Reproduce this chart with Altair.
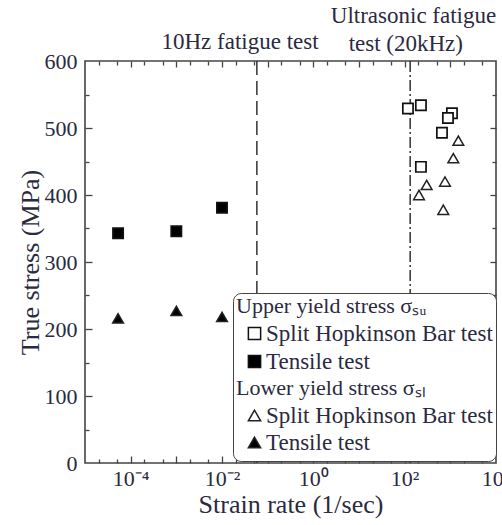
import altair as alt
import pandas as pd

# ---------------- data ----------------
upper_shb_rate = [118, 227, 1086, 887, 656, 227]
upper_shb_stress = [529, 534, 522, 515, 493, 442]
upper_tensile_rate = [5.3e-5, 1.0e-3, 1.0e-2]
upper_tensile_stress = [343, 346, 381]

lower_shb_rate = [1497, 1162, 764, 303, 206, 701]
lower_shb_stress = [481, 455, 420, 415, 400, 378]
lower_tensile_rate = [5.3e-5, 1.0e-3, 1.0e-2]
lower_tensile_stress = [216, 227, 218]

series_labels = ["Split Hopkinson Bar test", "Tensile test"]
upper_title = "Upper yield stress σₛᵤ"
lower_title = "Lower yield stress σₛₗ"

fatigue_rates = [0.058, 132]          # 10 Hz fatigue test, ultrasonic (20 kHz)
annotation_texts = ["10Hz fatigue test", "Ultrasonic fatigue", "test (20kHz)"]

x_tick_exponents = [-4, -2, 0, 2, 4]
x_tick_labels = ["10⁻⁴", "10⁻²", "10⁰", "10²", "10⁴"]
y_tick_values = [0, 100, 200, 300, 400, 500, 600]

# ---------------- tables ----------------
upper_df = pd.DataFrame({
    "rate": upper_shb_rate + upper_tensile_rate,
    "stress": upper_shb_stress + upper_tensile_stress,
    "test": [series_labels[0]] * len(upper_shb_rate) + [series_labels[1]] * len(upper_tensile_rate),
})
lower_df = pd.DataFrame({
    "rate": lower_shb_rate + lower_tensile_rate,
    "stress": lower_shb_stress + lower_tensile_stress,
    "test": [series_labels[0]] * len(lower_shb_rate) + [series_labels[1]] * len(lower_tensile_rate),
})

F = "Liberation Serif"
TXT = "#2a2a40"
FRAME = "#444444"

xs = alt.Scale(type="log", domain=[1e-5, 1e4], nice=False)
ys = alt.Scale(domain=[0, 600], nice=False)

x_tick_values = [10.0 ** e for e in x_tick_exponents]
label_expr = " : ".join(
    f"abs(log(datum.value)/LN10 - ({e})) < 0.01 ? '{lab}'"
    for e, lab in zip(x_tick_exponents, x_tick_labels)
) + " : ''"

x_major = [10.0 ** k for k in range(-4, 4)]
x_minor = [m * 10.0 ** k for k in range(-5, 4) for m in (2, 5)]
y_major = [100, 200, 300, 400, 500]
y_minor = [50, 150, 250, 350, 450, 550]

# ---------------- layers ----------------
rule_10hz = alt.Chart(pd.DataFrame({"rate": [fatigue_rates[0]]})).mark_rule(
    color="#333333", strokeWidth=1.5, strokeDash=[14, 6]
).encode(x=alt.X("rate:Q", scale=xs, axis=None))

rule_us = alt.Chart(pd.DataFrame({"rate": [fatigue_rates[1]]})).mark_rule(
    color="#333333", strokeWidth=1.5, strokeDash=[11, 3, 2, 3]
).encode(x=alt.X("rate:Q", scale=xs, axis=None))


def annot(text, xval, ypix):
    return alt.Chart(pd.DataFrame({"rate": [xval], "t": [text]})).mark_text(
        font=F, fontSize=23, color=TXT, align="center", baseline="alphabetic"
    ).encode(x=alt.X("rate:Q", scale=xs, axis=None), y=alt.value(ypix), text="t:N")


a1 = annot(annotation_texts[0], 0.0248, -12)
a2 = annot(annotation_texts[1], 156, -38)
a3 = annot(annotation_texts[2], 106, -10)


def tick_layer(xorient, yorient, xvals, yvals, size):
    return alt.Chart(upper_df).mark_point(opacity=0).encode(
        x=alt.X("rate:Q", scale=xs, axis=alt.Axis(
            orient=xorient, values=xvals, tickSize=size, offset=-size, labels=False,
            domain=False, grid=False, title=None, tickColor=FRAME, tickWidth=1.3)),
        y=alt.Y("stress:Q", scale=ys, axis=alt.Axis(
            orient=yorient, values=yvals, tickSize=size, offset=-size, labels=False,
            domain=False, grid=False, title=None, tickColor=FRAME, tickWidth=1.3)),
    )


tk1 = tick_layer("bottom", "left", x_major, y_major, 7)
tk2 = tick_layer("bottom", "left", x_minor, y_minor, 4)
tk3 = tick_layer("top", "right", x_major, y_major, 6)
tk4 = tick_layer("top", "right", x_minor, y_minor, 4)

x_axis = alt.Axis(
    orient="bottom", values=x_tick_values, labelExpr=label_expr, ticks=False, tickSize=0,
    domain=False, grid=False, labelFlush=False, labelOverlap=False,
    labelFont=F, labelFontSize=22, labelColor=TXT, labelPadding=5,
    title="Strain rate (1/sec)", titleFont=F, titleFontSize=26, titleFontWeight="normal",
    titleColor=TXT, titlePadding=2,
)
y_axis = alt.Axis(
    orient="left", values=y_tick_values, ticks=False, tickSize=0, domain=False, grid=False,
    labelFont=F, labelFontSize=22, labelColor=TXT, labelPadding=8,
    title="True stress (MPa)", titleFont=F, titleFontSize=26, titleFontWeight="normal",
    titleColor=TXT, titlePadding=1,
)

common_leg = dict(
    orient="none", legendX=148, padding=3,
    titleFont=F, titleFontSize=22, titleFontWeight="normal", titleColor=TXT,
    titleLimit=400, titlePadding=4,
    labelFont=F, labelFontSize=23, labelColor=TXT, labelLimit=400, labelOffset=0,
    symbolOffset=7, symbolSize=150, symbolStrokeWidth=1.5,
)
leg_upper = alt.Legend(title=upper_title, legendY=232, strokeColor=FRAME, cornerRadius=8,
                       fillColor="white", rowPadding=4, zindex=1, **common_leg)
leg_lower = alt.Legend(title=lower_title, legendY=314, rowPadding=3, zindex=2, **common_leg)

upper_domain = series_labels + [" ", "  ", "   "]
upper_shapes = ["square", "square", "M0,0", "M0,0", "M0,0"]
upper_fills = ["white", "black", "transparent", "transparent", "transparent"]

upper_pts = alt.Chart(upper_df).mark_point(
    size=105, opacity=1, stroke="#111111", strokeWidth=1.7
).encode(
    x=alt.X("rate:Q", scale=xs, axis=x_axis),
    y=alt.Y("stress:Q", scale=ys, axis=y_axis),
    shape=alt.Shape("test:N", scale=alt.Scale(domain=upper_domain, range=upper_shapes), legend=leg_upper),
    fill=alt.Fill("test:N", scale=alt.Scale(domain=upper_domain, range=upper_fills), legend=leg_upper),
)

lower_pts = alt.Chart(lower_df).mark_point(
    size=115, opacity=1, stroke="#222222", strokeWidth=1.5
).encode(
    x=alt.X("rate:Q", scale=xs, axis=None),
    y=alt.Y("stress:Q", scale=ys, axis=None),
    shape=alt.Shape("test:N", scale=alt.Scale(domain=series_labels, range=["triangle-up", "triangle-up"]), legend=leg_lower),
    fill=alt.Fill("test:N", scale=alt.Scale(domain=series_labels, range=["white", "black"]), legend=leg_lower),
)

chart = alt.layer(
    rule_10hz, rule_us, a1, a2, a3, tk1, tk2, tk3, tk4, upper_pts, lower_pts
).resolve_scale(
    shape="independent", fill="independent"
).resolve_legend(
    shape="independent", fill="independent"
).resolve_axis(
    x="independent", y="independent"
).properties(
    width=411, height=402,
    autosize=alt.AutoSizeParams(type="none"),
    padding={"left": 85, "top": 61, "right": 6, "bottom": 62},
    background="white",
).configure(
    font=F
).configure_view(
    stroke=FRAME, strokeWidth=1.6
).configure_legend(
    labelFont=F, titleFont=F
).configure_axis(
    labelFont=F, titleFont=F
)

chart.save("out.html", embed_options={"renderer": "svg", "actions": False})
